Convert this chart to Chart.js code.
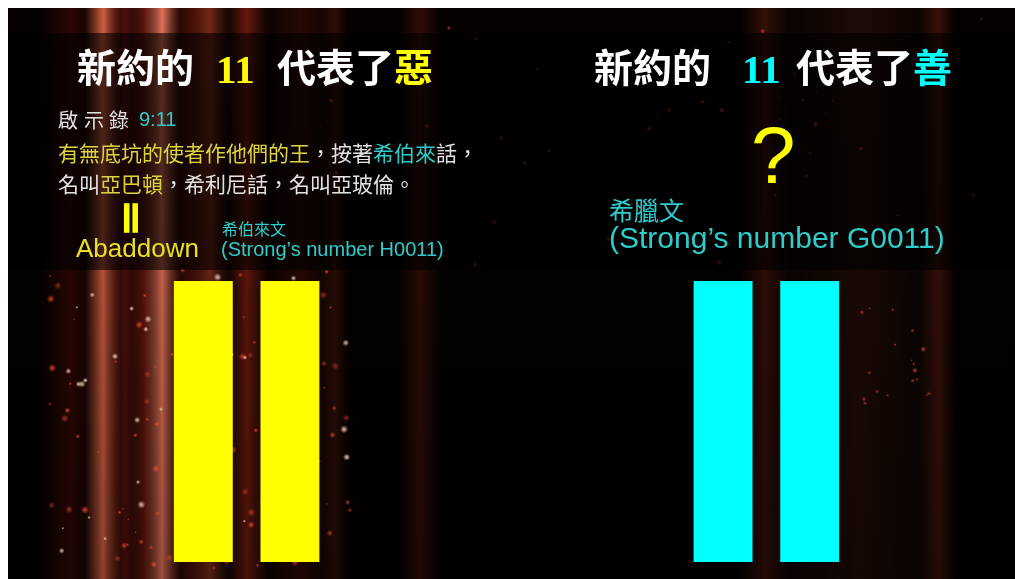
<!DOCTYPE html>
<html>
<head>
<meta charset="utf-8">
<script src="https://cdn.jsdelivr.net/npm/chart.js@4"></script>
<style>
  html, body { margin: 0; padding: 0; background: #fff; }
  canvas { display: block; }
</style>
</head>
<body>
<canvas id="slideChart" width="1015" height="579"></canvas>
<script>
// each bar is one "1" of the number 11 (left pair = 惡, right pair = 善)
const categories = ["惡 1", "惡 1", "", "", "", "", "善 1", "善 1"];
const barValues = [11, 11, null, null, null, null, 11, 11];
const valueMax = 11;

const titleLeft = ["新約的", "11", "代表了", "惡"];
const titleRight = ["新約的", "11", "代表了", "善"];
const verseRef = ["啟", "示", "錄", "9:11"];
const verseLine1 = ["有無底坑的使者作他們的王", "，按著", "希伯來", "話，"];
const verseLine2 = ["名叫", "亞巴頓", "，希利尼話，名叫亞玻倫。"];
const hebrewLabel = ["希伯來文", "(Strong’s number H0011)", "Abaddown", "||"];
const greekLabel = ["?", "希臘文", "(Strong’s number G0011)"];

const YELLOW = "#ffff00";
const CYAN = "#00ffff";
const TXT_YELLOW = "#dcd43c";
const TXT_CYAN = "#2ecccc";
const TXT_WHITE = "#e2e2e2";
const CJK = "'Noto Sans CJK TC'";

// background light streaks: x centre, width, rgb, alpha
const streaks = [
  [70, 30, "120,20,10", 0.35],
  [103, 18, "245,110,75", 0.85],
  [125, 20, "150,30,20", 0.5],
  [145, 14, "170,40,25", 0.55],
  [162, 18, "250,125,95", 0.9],
  [190, 26, "140,30,15", 0.45],
  [210, 20, "200,70,40", 0.55],
  [247, 22, "170,40,20", 0.6],
  [300, 40, "110,25,10", 0.35],
  [335, 14, "130,40,20", 0.3],
  [420, 20, "130,35,20", 0.35],
  [765, 24, "140,40,25", 0.35],
  [860, 90, "90,35,20", 0.3],
  [938, 18, "150,45,25", 0.35]
];

let seed = 11;
function rnd() {
  seed = (seed * 16807) % 2147483647;
  return seed / 2147483647;
}
const sparkles = [];
for (let i = 0; i < 150; i++) {
  const r = rnd();
  sparkles.push([50 + Math.pow(r, 1.2) * 300, 270 + rnd() * 300, 0.6 + rnd() * 1.5, rnd()]);
}
for (let i = 0; i < 45; i++) {
  sparkles.push([300 + rnd() * 700, 10 + rnd() * 260, 0.5 + rnd() * 1.2, rnd() * 0.5]);
}
for (let i = 0; i < 18; i++) {
  sparkles.push([850 + rnd() * 80, 290 + rnd() * 120, 0.5 + rnd() * 1.0, rnd() * 0.5]);
}

function drawRuns(ctx, x, y, runs, font) {
  ctx.font = font;
  runs.forEach(([text, color]) => {
    ctx.fillStyle = color;
    ctx.fillText(text, x, y);
    x += ctx.measureText(text).width;
  });
}

const slideBackground = {
  id: "slideBackground",
  beforeDraw(chart) {
    const ctx = chart.ctx;
    const W = chart.width, H = chart.height;
    ctx.save();
    ctx.fillStyle = "#ffffff";
    ctx.fillRect(0, 0, W, H);
    ctx.fillStyle = "#040100";
    ctx.fillRect(8, 8, W - 8, H - 8);

    streaks.forEach(([cx, w, rgb, a]) => {
      const g = ctx.createLinearGradient(cx - w, 0, cx + w, 0);
      g.addColorStop(0, `rgba(${rgb},0)`);
      g.addColorStop(0.5, `rgba(${rgb},${a})`);
      g.addColorStop(1, `rgba(${rgb},0)`);
      ctx.fillStyle = g;
      ctx.fillRect(cx - w, 8, w * 2, H - 8);
    });

    const fade = ctx.createLinearGradient(0, 8, 0, H);
    fade.addColorStop(0, "rgba(0,0,0,0)");
    fade.addColorStop(1, "rgba(0,0,0,0.3)");
    ctx.fillStyle = fade;
    ctx.fillRect(8, 8, W - 8, H - 8);

    sparkles.forEach(([x, y, r, b]) => {
      const g = ctx.createRadialGradient(x, y, 0, x, y, r * 2);
      const c = b > 0.75 ? "255,220,200" : "255,80,50";
      g.addColorStop(0, `rgba(${c},${0.45 + b * 0.5})`);
      g.addColorStop(1, `rgba(${c},0)`);
      ctx.fillStyle = g;
      ctx.beginPath();
      ctx.arc(x, y, r * 2, 0, Math.PI * 2);
      ctx.fill();
    });

    // translucent header band behind the text
    ctx.fillStyle = "rgba(0,0,0,0.6)";
    ctx.fillRect(8, 33, W - 8, 237);
    ctx.restore();
  },
  afterDraw(chart) {
    const ctx = chart.ctx;
    ctx.save();
    ctx.textBaseline = "middle";

    // titles
    ctx.font = `bold 39px ${CJK}`;
    ctx.fillStyle = "#ffffff";
    ctx.fillText(titleLeft[0], 77, 67);
    ctx.fillText(titleLeft[2], 277, 67);
    ctx.fillText(titleRight[0], 594, 67);
    ctx.fillText(titleRight[2], 796, 67);
    ctx.fillStyle = YELLOW;
    ctx.fillText(titleLeft[3], 394, 67);
    ctx.fillStyle = CYAN;
    ctx.fillText(titleRight[3], 913, 67);
    ctx.textBaseline = "alphabetic";
    ctx.font = "bold 41px 'Liberation Serif'";
    ctx.fillStyle = YELLOW;
    ctx.fillText(titleLeft[1], 216, 83);
    ctx.fillStyle = CYAN;
    ctx.fillText(titleRight[1], 742, 83);

    // verse
    ctx.textBaseline = "middle";
    ctx.font = `20px ${CJK}`;
    ctx.fillStyle = TXT_WHITE;
    ctx.fillText(verseRef[0], 58, 120);
    ctx.fillText(verseRef[1], 84, 120);
    ctx.fillText(verseRef[2], 109, 120);
    ctx.font = "20px 'Liberation Sans'";
    ctx.fillStyle = TXT_CYAN;
    ctx.fillText(verseRef[3], 139, 120);
    drawRuns(ctx, 58, 153, [
      [verseLine1[0], TXT_YELLOW], [verseLine1[1], TXT_WHITE],
      [verseLine1[2], TXT_CYAN], [verseLine1[3], TXT_WHITE]
    ], `21px ${CJK}`);
    drawRuns(ctx, 58, 184, [
      [verseLine2[0], TXT_WHITE], [verseLine2[1], TXT_YELLOW], [verseLine2[2], TXT_WHITE]
    ], `21px ${CJK}`);

    // hebrew side labels
    ctx.font = `16px ${CJK}`;
    ctx.fillStyle = TXT_CYAN;
    ctx.fillText(hebrewLabel[0], 222, 229);
    ctx.textBaseline = "alphabetic";
    ctx.font = "20px 'Liberation Sans'";
    ctx.fillText(hebrewLabel[1], 221, 256);
    ctx.font = "26px 'Liberation Sans'";
    ctx.fillStyle = "#e8e020";
    ctx.fillText(hebrewLabel[2], 76, 257);
    ctx.font = "bold 30px 'Liberation Sans'";
    ctx.fillStyle = YELLOW;
    ctx.strokeStyle = YELLOW;
    ctx.lineWidth = 1.6;
    ctx.textAlign = "center";
    ctx.fillText(hebrewLabel[3], 131, 226);
    ctx.strokeText(hebrewLabel[3], 131, 226);
    ctx.textAlign = "left";

    // greek side labels
    ctx.font = "80px 'Liberation Sans'";
    ctx.fillStyle = YELLOW;
    ctx.fillText(greekLabel[0], 751, 183);
    ctx.textBaseline = "middle";
    ctx.font = `25px ${CJK}`;
    ctx.fillStyle = TXT_CYAN;
    ctx.fillText(greekLabel[1], 609, 210);
    ctx.textBaseline = "alphabetic";
    ctx.font = "30px 'Liberation Sans'";
    ctx.fillText(greekLabel[2], 609, 248);
    ctx.restore();
  }
};

new Chart(document.getElementById("slideChart").getContext("2d"), {
  type: "bar",
  data: {
    labels: categories,
    datasets: [{
      data: barValues,
      backgroundColor: categories.map(c => c.startsWith("惡") ? YELLOW : CYAN),
      borderWidth: 0,
      barPercentage: 0.68,
      categoryPercentage: 1.0
    }]
  },
  options: {
    responsive: false,
    animation: false,
    devicePixelRatio: 1,
    layout: { padding: { left: 160, right: 162, top: 281, bottom: 17 } },
    scales: {
      x: { display: false },
      y: { display: false, min: 0, max: valueMax }
    },
    plugins: {
      legend: { display: false },
      tooltip: { enabled: false }
    }
  },
  plugins: [slideBackground]
});
</script>
</body>
</html>
